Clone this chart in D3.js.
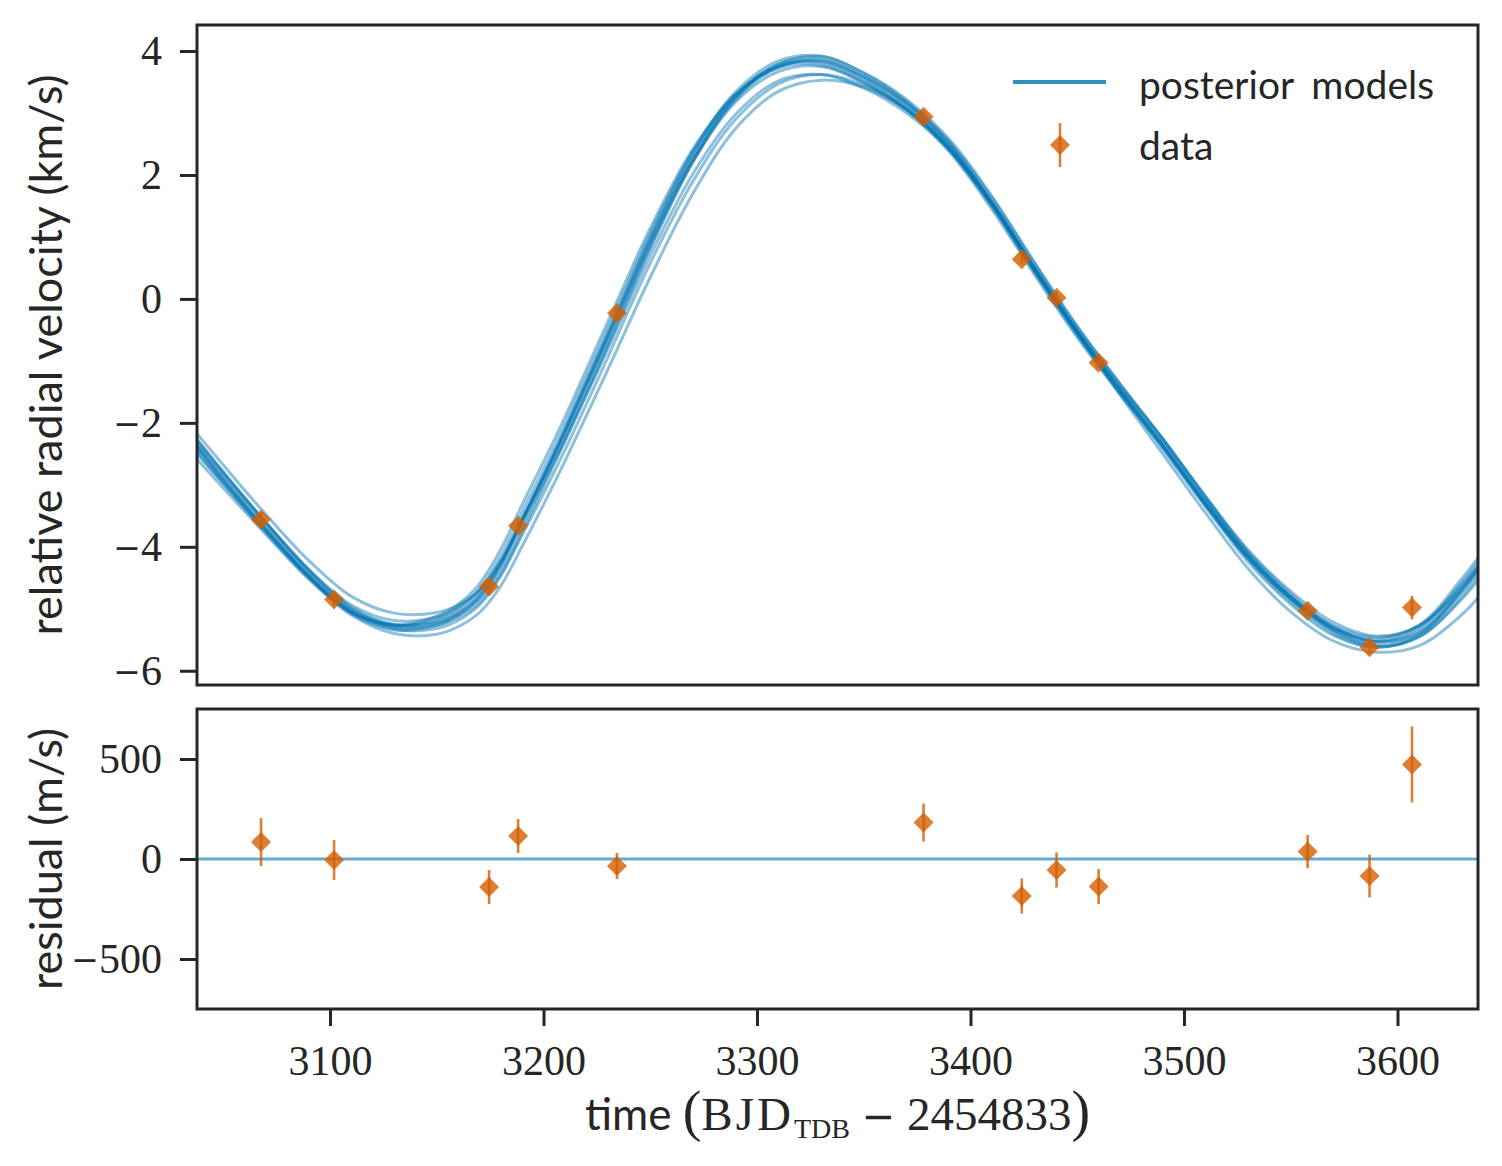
<!DOCTYPE html>
<html>
<head>
<meta charset="utf-8">
<title>Radial velocity posterior models</title>
<script src="https://cdn.jsdelivr.net/npm/d3@7"></script>
<style>
  body { margin: 0; background: #ffffff; }
</style>
</head>
<body>
<div id="chart"></div>
<script>

// observations (time in BJD_TDB - 2454833)
var obsTime  = [3067.7, 3101.9, 3174.5, 3188.1, 3234.4, 3378.0, 3424.0, 3440.3, 3460.0, 3557.9, 3586.9, 3606.8];
var obsRV    = [-3.56, -4.85, -4.64, -3.66, -0.23, 2.94, 0.64, 0.02, -1.03, -5.03, -5.62, -4.98];   // km/s
var obsErr   = [120, 100, 85, 85, 65, 95, 88, 88, 88, 83, 107, 190];                                 // m/s
var residual = [85, -5, -140, 115, -35, 182, -185, -55, -138, 37, -85, 473];                          // m/s

var modelTime = [3030, 3050, 3070, 3090, 3110, 3130, 3150, 3160, 3170, 3180, 3190, 3200, 3210, 3230, 3250, 3270, 3290, 3310,
                 3330, 3350, 3370, 3390, 3410, 3430, 3450, 3470, 3490, 3510, 3530, 3550, 3570, 3590, 3610, 3630, 3650];
var modelA = [-2.02,-2.87,-3.67,-4.42,-5.01,-5.26,-5.19,-5.04,-4.76,-4.26,-3.56,-2.86,-2.13,-0.60,0.95,2.30,3.26,3.75,3.83,3.56,3.13,2.48,1.56,0.50,-0.52,-1.44,-2.31,-3.25,-4.12,-4.80,-5.31,-5.53,-5.35,-4.66,-3.75];
var modelB = [-2.05,-2.92,-3.73,-4.48,-5.08,-5.34,-5.27,-5.11,-4.82,-4.30,-3.58,-2.86,-2.11,-0.56,1.01,2.37,3.34,3.84,3.92,3.64,3.19,2.52,1.57,0.49,-0.54,-1.47,-2.36,-3.31,-4.20,-4.89,-5.40,-5.62,-5.43,-4.72,-3.78];
var modelC = [-1.99,-2.82,-3.61,-4.36,-4.94,-5.19,-5.13,-4.98,-4.71,-4.23,-3.55,-2.87,-2.16,-0.65,0.89,2.23,3.18,3.67,3.75,3.49,3.07,2.44,1.55,0.51,-0.50,-1.41,-2.26,-3.19,-4.05,-4.72,-5.22,-5.44,-5.27,-4.61,-3.73];
var modelD = [-1.95,-2.80,-3.61,-4.37,-4.97,-5.25,-5.22,-5.09,-4.84,-4.37,-3.68,-2.97,-2.24,-0.72,0.84,2.22,3.22,3.74,3.85,3.59,3.17,2.54,1.63,0.57,-0.45,-1.37,-2.25,-3.18,-4.07,-4.76,-5.29,-5.53,-5.39,-4.74,-3.85];
var modelE = [-2.09,-2.94,-3.73,-4.47,-5.05,-5.27,-5.16,-4.99,-4.68,-4.15,-3.44,-2.75,-2.02,-0.48,1.06,2.38,3.30,3.76,3.81,3.53,3.09,2.42,1.49,0.43,-0.59,-1.51,-2.37,-3.32,-4.17,-4.84,-5.33,-5.53,-5.31,-4.58,-3.65];
var modelF = [-2.04,-2.90,-3.70,-4.45,-5.04,-5.30,-5.23,-5.07,-4.79,-4.28,-3.57,-2.87,-2.14,-0.61,0.94,2.29,3.28,3.79,3.87,3.59,3.15,2.49,1.55,0.48,-0.54,-1.46,-2.34,-3.28,-4.16,-4.85,-5.36,-5.58,-5.40,-4.69,-3.77];
var modelG = [-2.14,-2.98,-3.77,-4.50,-5.06,-5.26,-5.12,-4.93,-4.60,-4.04,-3.32,-2.63,-1.91,-0.38,1.14,2.42,3.30,3.73,3.77,3.49,3.05,2.38,1.45,0.39,-0.62,-1.53,-2.39,-3.33,-4.18,-4.84,-5.31,-5.49,-5.27,-4.52,-3.58];
var modelH = [-1.92,-2.79,-3.61,-4.38,-5.00,-5.29,-5.27,-5.14,-4.90,-4.44,-3.76,-3.04,-2.30,-0.77,0.81,2.21,3.24,3.79,3.91,3.65,3.22,2.58,1.66,0.59,-0.44,-1.37,-2.26,-3.21,-4.11,-4.81,-5.35,-5.60,-5.46,-4.81,-3.90];
var modelI = [-2.30,-3.05,-3.80,-4.52,-5.10,-5.40,-5.41,-5.29,-5.06,-4.63,-3.99,-3.32,-2.62,-1.15,0.35,1.70,2.75,3.35,3.53,3.42,3.05,2.42,1.52,0.46,-0.56,-1.55,-2.50,-3.45,-4.35,-5.05,-5.52,-5.70,-5.60,-5.10,-4.30];
var modelJ = [-2.20,-2.98,-3.75,-4.48,-5.06,-5.33,-5.32,-5.19,-4.94,-4.47,-3.81,-3.14,-2.44,-0.95,0.58,1.90,2.90,3.47,3.62,3.45,3.06,2.44,1.53,0.46,-0.54,-1.50,-2.42,-3.35,-4.24,-4.93,-5.43,-5.62,-5.45,-4.85,-3.98];
var modelK = [-1.85,-2.68,-3.48,-4.22,-4.80,-5.07,-5.06,-4.94,-4.70,-4.23,-3.60,-2.95,-2.28,-0.82,0.70,2.02,2.98,3.52,3.62,3.40,3.00,2.40,1.52,0.47,-0.53,-1.47,-2.38,-3.28,-4.14,-4.80,-5.27,-5.46,-5.28,-4.66,-3.75];
var models = [modelA, modelB, modelC, modelD, modelE, modelF, modelG, modelH, modelI, modelJ, modelK];

// tick labels
var timeTicks = [3100, 3200, 3300, 3400, 3500, 3600];
var rvTicks = [-6, -4, -2, 0, 2, 4];
var resTicks = [-500, 0, 500];

var blue = "#0173b2", orange = "#d55e00", ink = "#262626";
var serif = "'Liberation Serif', 'DejaVu Serif', serif";
var sans = "Lato, 'Open Sans', sans-serif";
var tickFont = 42;

var svg = d3.select("#chart")
  .append("svg")
    .attr("width", 1502)
    .attr("height", 1166);

var x = d3.scaleLinear().domain([3037.7, 3637.7]).range([197, 1478]);
var yRV = d3.scaleLinear().domain([-6.23, 4.42]).range([685, 25]);
var yRes = d3.scaleLinear().domain([-750, 750]).range([1009, 709]);

svg.append("clipPath").attr("id", "clipTop")
  .append("rect")
    .attr("x", x.range()[0]).attr("y", yRV.range()[1])
    .attr("width", x.range()[1] - x.range()[0])
    .attr("height", yRV.range()[0] - yRV.range()[1]);

// posterior model curves
var line = d3.line()
  .x(function(d) { return x(d[0]); })
  .y(function(d) { return yRV(d[1]); })
  .curve(d3.curveCatmullRom.alpha(0.5));

svg.append("g")
  .attr("clip-path", "url(#clipTop)")
  .selectAll("path")
  .data(models)
  .enter()
  .append("path")
    .attr("d", function(m) { return line(modelTime.map(function(t, i) { return [t, m[i]]; })); })
    .attr("fill", "none")
    .attr("stroke", blue)
    .attr("stroke-width", 3)
    .attr("stroke-opacity", 0.45);

// zero line in the residual panel
svg.append("line")
  .attr("x1", x.range()[0]).attr("x2", x.range()[1])
  .attr("y1", yRes(0)).attr("y2", yRes(0))
  .attr("stroke", blue).attr("stroke-width", 3).attr("stroke-opacity", 0.6);

var diamond = d3.symbol().type(d3.symbolSquare).size(200);

function drawData(yScale, vals, errs) {
  var g = svg.append("g");
  var pts = g.selectAll("g.pt")
    .data(obsTime.map(function(t, i) { return {t: t, v: vals[i], e: errs[i]}; }))
    .enter().append("g").attr("class", "pt");
  pts.append("line")
    .attr("x1", function(d) { return x(d.t); })
    .attr("x2", function(d) { return x(d.t); })
    .attr("y1", function(d) { return yScale(d.v - d.e); })
    .attr("y2", function(d) { return yScale(d.v + d.e); })
    .attr("stroke", orange).attr("stroke-width", 2.6).attr("stroke-opacity", 0.8);
  pts.append("path")
    .attr("d", diamond)
    .attr("transform", function(d) { return "translate(" + x(d.t) + "," + yScale(d.v) + ") rotate(45)"; })
    .attr("fill", orange).attr("fill-opacity", 0.8);
}

drawData(yRV, obsRV, obsErr.map(function(e) { return e / 1000; }));
drawData(yRes, residual, obsErr);

// axes
function styleAxis(g) {
  g.select(".domain").remove();
  g.selectAll(".tick line").attr("stroke", ink).attr("stroke-width", 3);
  g.selectAll(".tick text").attr("fill", ink).each(function(d) {
    if (d < 0) {
      // wider minus glyph, like the math minus of the original
      var t = d3.select(this).text("");
      t.append("tspan").attr("font-family", "'DejaVu Sans'").attr("font-size", 33)
        .attr("dy", 0.32 * tickFont - 2).text("\u2212");
      t.append("tspan").attr("dy", 2).text(Math.abs(d));
    }
  });
  g.attr("font-family", serif).attr("font-size", tickFont);
}

svg.append("g")
  .attr("transform", "translate(" + x.range()[0] + ",0)")
  .call(d3.axisLeft(yRV).tickValues(rvTicks).tickFormat(d3.format("d")).tickSize(17).tickPadding(18))
  .call(styleAxis);

svg.append("g")
  .attr("transform", "translate(" + x.range()[0] + ",0)")
  .call(d3.axisLeft(yRes).tickValues(resTicks).tickFormat(d3.format("d")).tickSize(17).tickPadding(18))
  .call(styleAxis);

svg.append("g")
  .attr("transform", "translate(0," + yRes.range()[0] + ")")
  .call(d3.axisBottom(x).tickValues(timeTicks).tickFormat(d3.format("d")).tickSize(17).tickPadding(19))
  .call(styleAxis);

// frames
[yRV, yRes].forEach(function(s) {
  var r = s.range();
  svg.append("rect")
    .attr("x", x.range()[0]).attr("y", r[1])
    .attr("width", x.range()[1] - x.range()[0])
    .attr("height", r[0] - r[1])
    .attr("fill", "none").attr("stroke", ink).attr("stroke-width", 3);
});

// axis titles
svg.append("text")
  .attr("transform", "translate(62," + (yRV.range()[0] + yRV.range()[1]) / 2 + ") rotate(-90)")
  .attr("text-anchor", "middle")
  .attr("font-family", sans).attr("font-size", 45).attr("fill", ink)
  .text("relative radial velocity (km/s)");

svg.append("text")
  .attr("transform", "translate(62," + (yRes.range()[0] + yRes.range()[1]) / 2 + ") rotate(-90)")
  .attr("text-anchor", "middle")
  .attr("font-family", sans).attr("font-size", 45).attr("fill", ink)
  .text("residual (m/s)");

var xt = svg.append("text")
  .attr("x", (x.range()[0] + x.range()[1]) / 2).attr("y", 1130)
  .attr("text-anchor", "middle")
  .attr("fill", ink)
  .attr("font-family", serif).attr("font-size", 47);
xt.append("tspan").attr("font-family", sans).attr("font-size", 44).text("time ");
xt.append("tspan").attr("font-size", 56).text("(");
xt.append("tspan").attr("letter-spacing", 3).text("BJD");
xt.append("tspan").attr("font-size", 28).attr("dy", 8).text("TDB");
xt.append("tspan").attr("dy", -8).text(" ");
xt.append("tspan").attr("font-family", "'DejaVu Sans'").attr("font-size", 40).text("\u2212");
xt.append("tspan").text(" 2454833");
xt.append("tspan").attr("font-size", 56).text(")");

// legend
var leg = svg.append("g");
leg.append("line")
  .attr("x1", 1013).attr("x2", 1106).attr("y1", 82).attr("y2", 82)
  .attr("stroke", blue).attr("stroke-width", 4).attr("stroke-opacity", 0.8);
leg.append("line")
  .attr("x1", 1060).attr("x2", 1060).attr("y1", 123).attr("y2", 167)
  .attr("stroke", orange).attr("stroke-width", 2.6).attr("stroke-opacity", 0.8);
leg.append("path")
  .attr("d", diamond)
  .attr("transform", "translate(1060,145) rotate(45)")
  .attr("fill", orange).attr("fill-opacity", 0.8);
leg.append("text").attr("x", 1139).attr("y", 99)
  .attr("font-family", sans).attr("font-size", 39).attr("fill", ink)
  .attr("word-spacing", 8)
  .text("posterior models");
leg.append("text").attr("x", 1139).attr("y", 160)
  .attr("font-family", sans).attr("font-size", 39).attr("fill", ink)
  .text("data");

</script>
</body>
</html>
